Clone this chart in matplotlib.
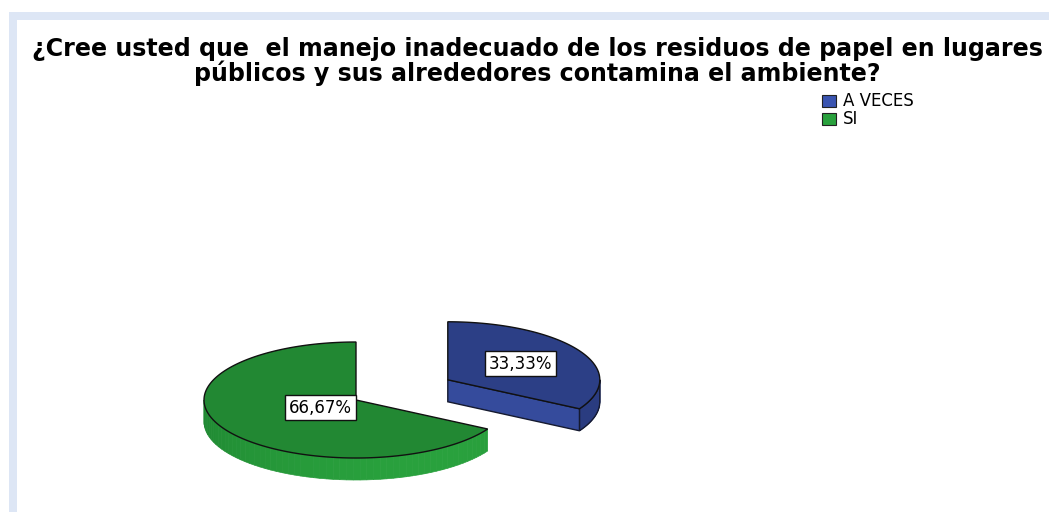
import numpy as np
import matplotlib
matplotlib.use("Agg")
import matplotlib.pyplot as plt
from matplotlib.patches import Polygon, Rectangle

# Respuestas y porcentajes
categorias = ["A VECES", "SI"]
porcentajes = [33.33, 66.67]
etiquetas = ["33,33%", "66,67%"]
colores_sup = ["#2c3f86", "#228833"]
colores_lado = ["#2a3c80", "#29a13d"]
colores_corte = ["#354b9c", "#1f7f30"]
colores_leyenda = ["#3a54b0", "#29a13d"]
separacion = [106, 0]
radio_etiqueta = [0.55, 0.27]
titulo = ["¿Cree usted que  el manejo inadecuado de los residuos de papel en lugares",
          "públicos y sus alrededores contamina el ambiente?"]

W, H = 1049, 512
fig = plt.figure(figsize=(W / 100, H / 100), dpi=100)
ax = fig.add_axes([0, 0, 1, 1])
ax.set_xlim(0, W)
ax.set_ylim(H, 0)
ax.axis("off")

# marco
ax.add_patch(Rectangle((9, 12), W, H, facecolor="#dde6f5", edgecolor="none"))
ax.add_patch(Rectangle((17, 20), W, H, facecolor="white", edgecolor="none"))

# titulo: el tamaño se ajusta para que la primera linea ocupe ~1015 px
t1 = ax.text(537, 56, titulo[0], ha="center", va="baseline", fontsize=16, fontweight="bold")
fig.canvas.draw()
ancho = t1.get_window_extent().width
fs = 16 * 1015 / ancho
t1.set_fontsize(fs)
ax.text(537, 81, titulo[1], ha="center", va="baseline", fontsize=fs, fontweight="bold")

# leyenda
for i, cat in enumerate(categorias):
    y0 = 95 + i * 18
    ax.add_patch(Rectangle((822, y0), 14, 12, facecolor=colores_leyenda[i],
                           edgecolor="#222222", lw=0.8))
    ax.text(843, y0 + 11.5, cat, fontsize=12, va="baseline")

# pastel 3D
cx, cy = 356, 400
a, b = 152, 58
prof = 22


def punto(x0, y0, t):
    return x0 + a * np.cos(t), y0 - b * np.sin(t)


def arco(x0, y0, t1, t2, n=120):
    t = np.linspace(t1, t2, n)
    return np.column_stack([x0 + a * np.cos(t), y0 - b * np.sin(t)])


def mezcla(c1, c2, f):
    c1 = np.array(matplotlib.colors.to_rgb(c1))
    c2 = np.array(matplotlib.colors.to_rgb(c2))
    return tuple(c1 + (c2 - c1) * f)


# SI empieza arriba y gira en sentido antihorario, luego A VECES
angulos = {}
t = 90.0
for i in [1, 0]:
    ang = porcentajes[i] / 100 * 360
    angulos[i] = (t, t + ang)
    t += ang

for i in [0, 1]:
    g1, g2 = angulos[i]
    medio = np.radians((g1 + g2) / 2)
    x0 = cx + separacion[i] * np.cos(medio)
    y0 = cy - separacion[i] * np.sin(medio) * b / a
    r1, r2 = np.radians(g1), np.radians(g2)

    # cara lateral exterior (solo la mitad delantera)
    segs = []
    for k in range(-1, 2):
        s1 = max(r1, np.pi + 2 * np.pi * k)
        s2 = min(r2, 2 * np.pi + 2 * np.pi * k)
        if s2 > s1:
            segs.append((s1, s2))
    for s1, s2 in segs:
        ts = np.linspace(s1, s2, 60)
        for j in range(len(ts) - 1):
            top = arco(x0, y0, ts[j], ts[j + 1], 2)
            bot = top[::-1] + [0, prof]
            f = 0.5 + 0.5 * np.cos(ts[j] - np.radians(300))
            c = mezcla("#1c7f2e", colores_lado[i], f) if i == 1 else colores_lado[i]
            ax.add_patch(Polygon(np.vstack([top, bot]), closed=True, facecolor=c,
                                 edgecolor=c, lw=0.5))
        if i == 0:
            top = arco(x0, y0, s1, s2)
            ax.add_patch(Polygon(np.vstack([top, top[::-1] + [0, prof]]), closed=True,
                                 facecolor="none", edgecolor="#151a30", lw=1))

    # caras de corte visibles
    for r, vis in [(r1, np.cos(r1) > 1e-6), (r2, np.cos(r2) < -1e-6)]:
        if vis:
            px, py = punto(x0, y0, r)
            quad = [(x0, y0), (px, py), (px, py + prof), (x0, y0 + prof)]
            ax.add_patch(Polygon(quad, closed=True, facecolor=colores_corte[i],
                                 edgecolor="#151a30", lw=1))

    # cara superior
    pts = np.vstack([[x0, y0], arco(x0, y0, r1, r2, 200)])
    ax.add_patch(Polygon(pts, closed=True, facecolor=colores_sup[i],
                         edgecolor="#111111", lw=1))

    lx = x0 + radio_etiqueta[i] * a * np.cos(medio)
    ly = y0 - radio_etiqueta[i] * b * np.sin(medio)
    ax.text(lx, ly, etiquetas[i], ha="center", va="center", fontsize=12,
            bbox=dict(boxstyle="square,pad=0.22", facecolor="white", edgecolor="#111111", lw=1))

fig.savefig("out.png", dpi=100)
